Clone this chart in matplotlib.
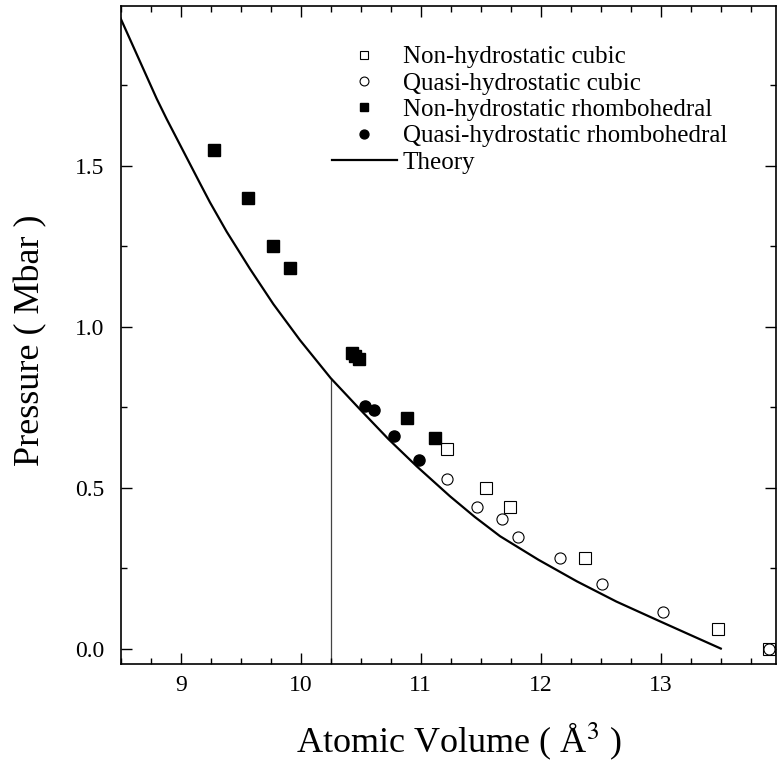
import matplotlib
matplotlib.use('Agg')
import matplotlib.pyplot as plt
from matplotlib.ticker import MultipleLocator, FormatStrFormatter

plt.rcParams['font.family'] = ['Liberation Serif', 'DejaVu Serif']
plt.rcParams['mathtext.fontset'] = 'stix'

# 데이터
nh_cubic_v = [11.22, 11.54, 11.74, 12.37, 13.48, 13.90]
nh_cubic_p = [0.621, 0.500, 0.440, 0.280, 0.060, 0.000]

qh_cubic_v = [11.22, 11.47, 11.68, 11.81, 12.16, 12.51, 13.02, 13.90]
qh_cubic_p = [0.527, 0.440, 0.401, 0.347, 0.280, 0.200, 0.113, 0.000]

nh_rhombo_v = [9.275, 9.561, 9.772, 9.911, 10.425, 10.453, 10.486, 10.883, 11.122]
nh_rhombo_p = [1.549, 1.400, 1.250, 1.181, 0.919, 0.909, 0.898, 0.715, 0.653]

qh_rhombo_v = [10.536, 10.611, 10.778, 10.983]
qh_rhombo_p = [0.753, 0.741, 0.660, 0.587]

theory_v = [8.50, 8.80, 8.883, 9.022, 9.161, 9.244, 9.383, 9.578, 9.772, 9.994,
            10.25, 10.494, 10.73, 10.967, 11.244, 11.45, 11.661, 11.98, 12.30,
            12.63, 12.967, 13.23, 13.50]
theory_p = [1.957, 1.708, 1.645, 1.545, 1.445, 1.386, 1.295, 1.179, 1.070, 0.958,
            0.840, 0.743, 0.651, 0.566, 0.473, 0.409, 0.349, 0.276, 0.209,
            0.146, 0.089, 0.045, 0.000]

v_marker = 10.25
p_marker = 0.840

fig = plt.figure(figsize=(7.77, 7.67), dpi=100)
ax = fig.add_axes([120.7 / 777, 1 - 663.7 / 767, (776.0 - 120.7) / 777, (663.7 - 5.7) / 767])

ax.vlines(v_marker, -0.1, p_marker, color='#444444', lw=0.9, zorder=1)
ax.plot(theory_v, theory_p, color='black', lw=1.6, label='Theory', zorder=2)

ms = 8
ax.plot(nh_cubic_v, nh_cubic_p, 's', ms=ms, mfc='white', mec='black', mew=0.8,
        ls='none', label='Non-hydrostatic cubic', zorder=3)
ax.plot(qh_cubic_v, qh_cubic_p, 'o', ms=ms, mfc='none', mec='black', mew=0.8,
        ls='none', label='Quasi-hydrostatic cubic', zorder=4)
ax.plot(nh_rhombo_v, nh_rhombo_p, 's', ms=ms, color='black',
        ls='none', label='Non-hydrostatic rhombohedral', zorder=3)
ax.plot(qh_rhombo_v, qh_rhombo_p, 'o', ms=ms, color='black',
        ls='none', label='Quasi-hydrostatic rhombohedral', zorder=3)

ax.set_xlim(8.5, 13.96)
ax.set_ylim(-0.047, 1.997)

ax.xaxis.set_major_locator(MultipleLocator(1))
ax.xaxis.set_minor_locator(MultipleLocator(0.25))
ax.yaxis.set_major_locator(MultipleLocator(0.5))
ax.yaxis.set_minor_locator(MultipleLocator(0.25))
ax.yaxis.set_major_formatter(FormatStrFormatter('%.1f'))

ax.tick_params(which='both', direction='in', top=True, right=True, width=1.0)
ax.tick_params(which='major', length=8)
ax.tick_params(which='minor', length=4)
ax.tick_params(axis='x', labelsize=17, pad=8)
ax.tick_params(axis='y', labelsize=17, pad=12)
for s in ax.spines.values():
    s.set_linewidth(1.2)

ax.set_xlabel('Atomic Volume ( Å$^{3}$ )', fontsize=26, labelpad=18, x=0.516)
ax.set_ylabel('Pressure ( Mbar )', fontsize=26, labelpad=20, y=0.492)

handles, labels = ax.get_legend_handles_labels()
order = [1, 2, 3, 4, 0]
ax.legend([handles[i] for i in order], [labels[i] for i in order],
          loc='upper left', bbox_to_anchor=(331.7 / 777, 1 - 46 / 767),
          bbox_transform=fig.transFigure, frameon=False, fontsize=18,
          handlelength=2.6, handletextpad=0.25, labelspacing=0.15,
          borderpad=0, borderaxespad=0, markerscale=0.8)

plt.savefig('out.png', dpi=100)
